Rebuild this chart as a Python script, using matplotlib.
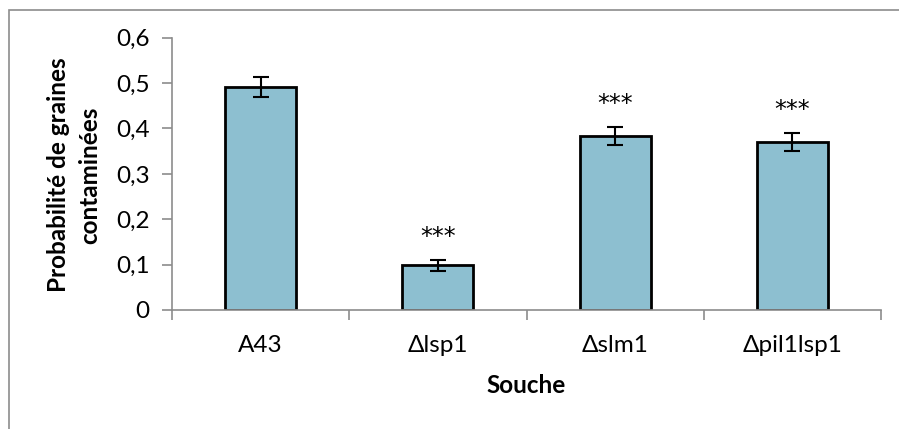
import numpy as np
import matplotlib
matplotlib.use("Agg")
import matplotlib.pyplot as plt
from matplotlib.patches import Rectangle

plt.rcParams['font.family'] = ['Lato', 'DejaVu Sans']

# data
souches = ['A43', 'Δlsp1', 'Δslm1', 'Δpil1lsp1']
proba = [0.491, 0.099, 0.384, 0.371]
erreur = [0.022, 0.012, 0.020, 0.020]
signif = ['', '***', '***', '***']
yticks = [0, 0.1, 0.2, 0.3, 0.4, 0.5, 0.6]

W, H = 899, 429
fig = plt.figure(figsize=(W / 100, H / 100), dpi=100)

# outer chart border (Excel style)
fig.patches.append(Rectangle((8.5 / W, -0.1), 1.2, 1 - 9.5 / H + 0.1,
                             transform=fig.transFigure, fill=False,
                             edgecolor='#8c8c8c', linewidth=1.2))

ax = fig.add_axes([172 / W, 1 - 310 / H, (881 - 172) / W, (310 - 37.7) / H])
x = np.arange(len(souches))
ax.bar(x, proba, width=0.4, color='#8dbfd0', edgecolor='black', linewidth=2, zorder=2)
ax.errorbar(x, proba, yerr=erreur, fmt='none', ecolor='black', elinewidth=1.5,
            capsize=6, capthick=1.5, zorder=3)
for i in range(len(souches)):
    if signif[i]:
        ax.text(x[i], proba[i] + erreur[i] + 0.05, signif[i], ha='center', va='center',
                fontsize=17, family='DejaVu Sans')

ax.set_xlim(-0.5, len(souches) - 0.5)
ax.set_ylim(0, 0.6)
ax.set_yticks(yticks)
ax.set_yticklabels([('%.1f' % v).replace('.', ',') if v else '0' for v in yticks])
ax.set_xticks(x)
ax.set_xticklabels(souches)
ax.set_xticks(np.arange(len(souches) + 1) - 0.5, minor=True)
ax.tick_params(axis='x', which='major', length=0, pad=18, labelsize=17.5)
ax.tick_params(axis='x', which='minor', length=7, color='#8c8c8c', width=1.2, direction='out')
ax.tick_params(axis='y', length=7, color='#8c8c8c', width=1.2, labelsize=17.5, pad=9)

for s in ['top', 'right']:
    ax.spines[s].set_visible(False)
for s in ['left', 'bottom']:
    ax.spines[s].set_color('#8c8c8c')
    ax.spines[s].set_linewidth(1.2)

ax.set_xlabel('Souche', fontsize=17.5, fontweight='bold', labelpad=13)

# y label in two centred lines
fig.text(58 / W, 1 - 175 / H, 'Probabilité de graines', rotation=90,
         ha='center', va='center', fontsize=17.5, fontweight='bold')
fig.text(90 / W, 1 - 175 / H, 'contaminées', rotation=90,
         ha='center', va='center', fontsize=17.5, fontweight='bold')

fig.savefig('out.png', dpi=100)
